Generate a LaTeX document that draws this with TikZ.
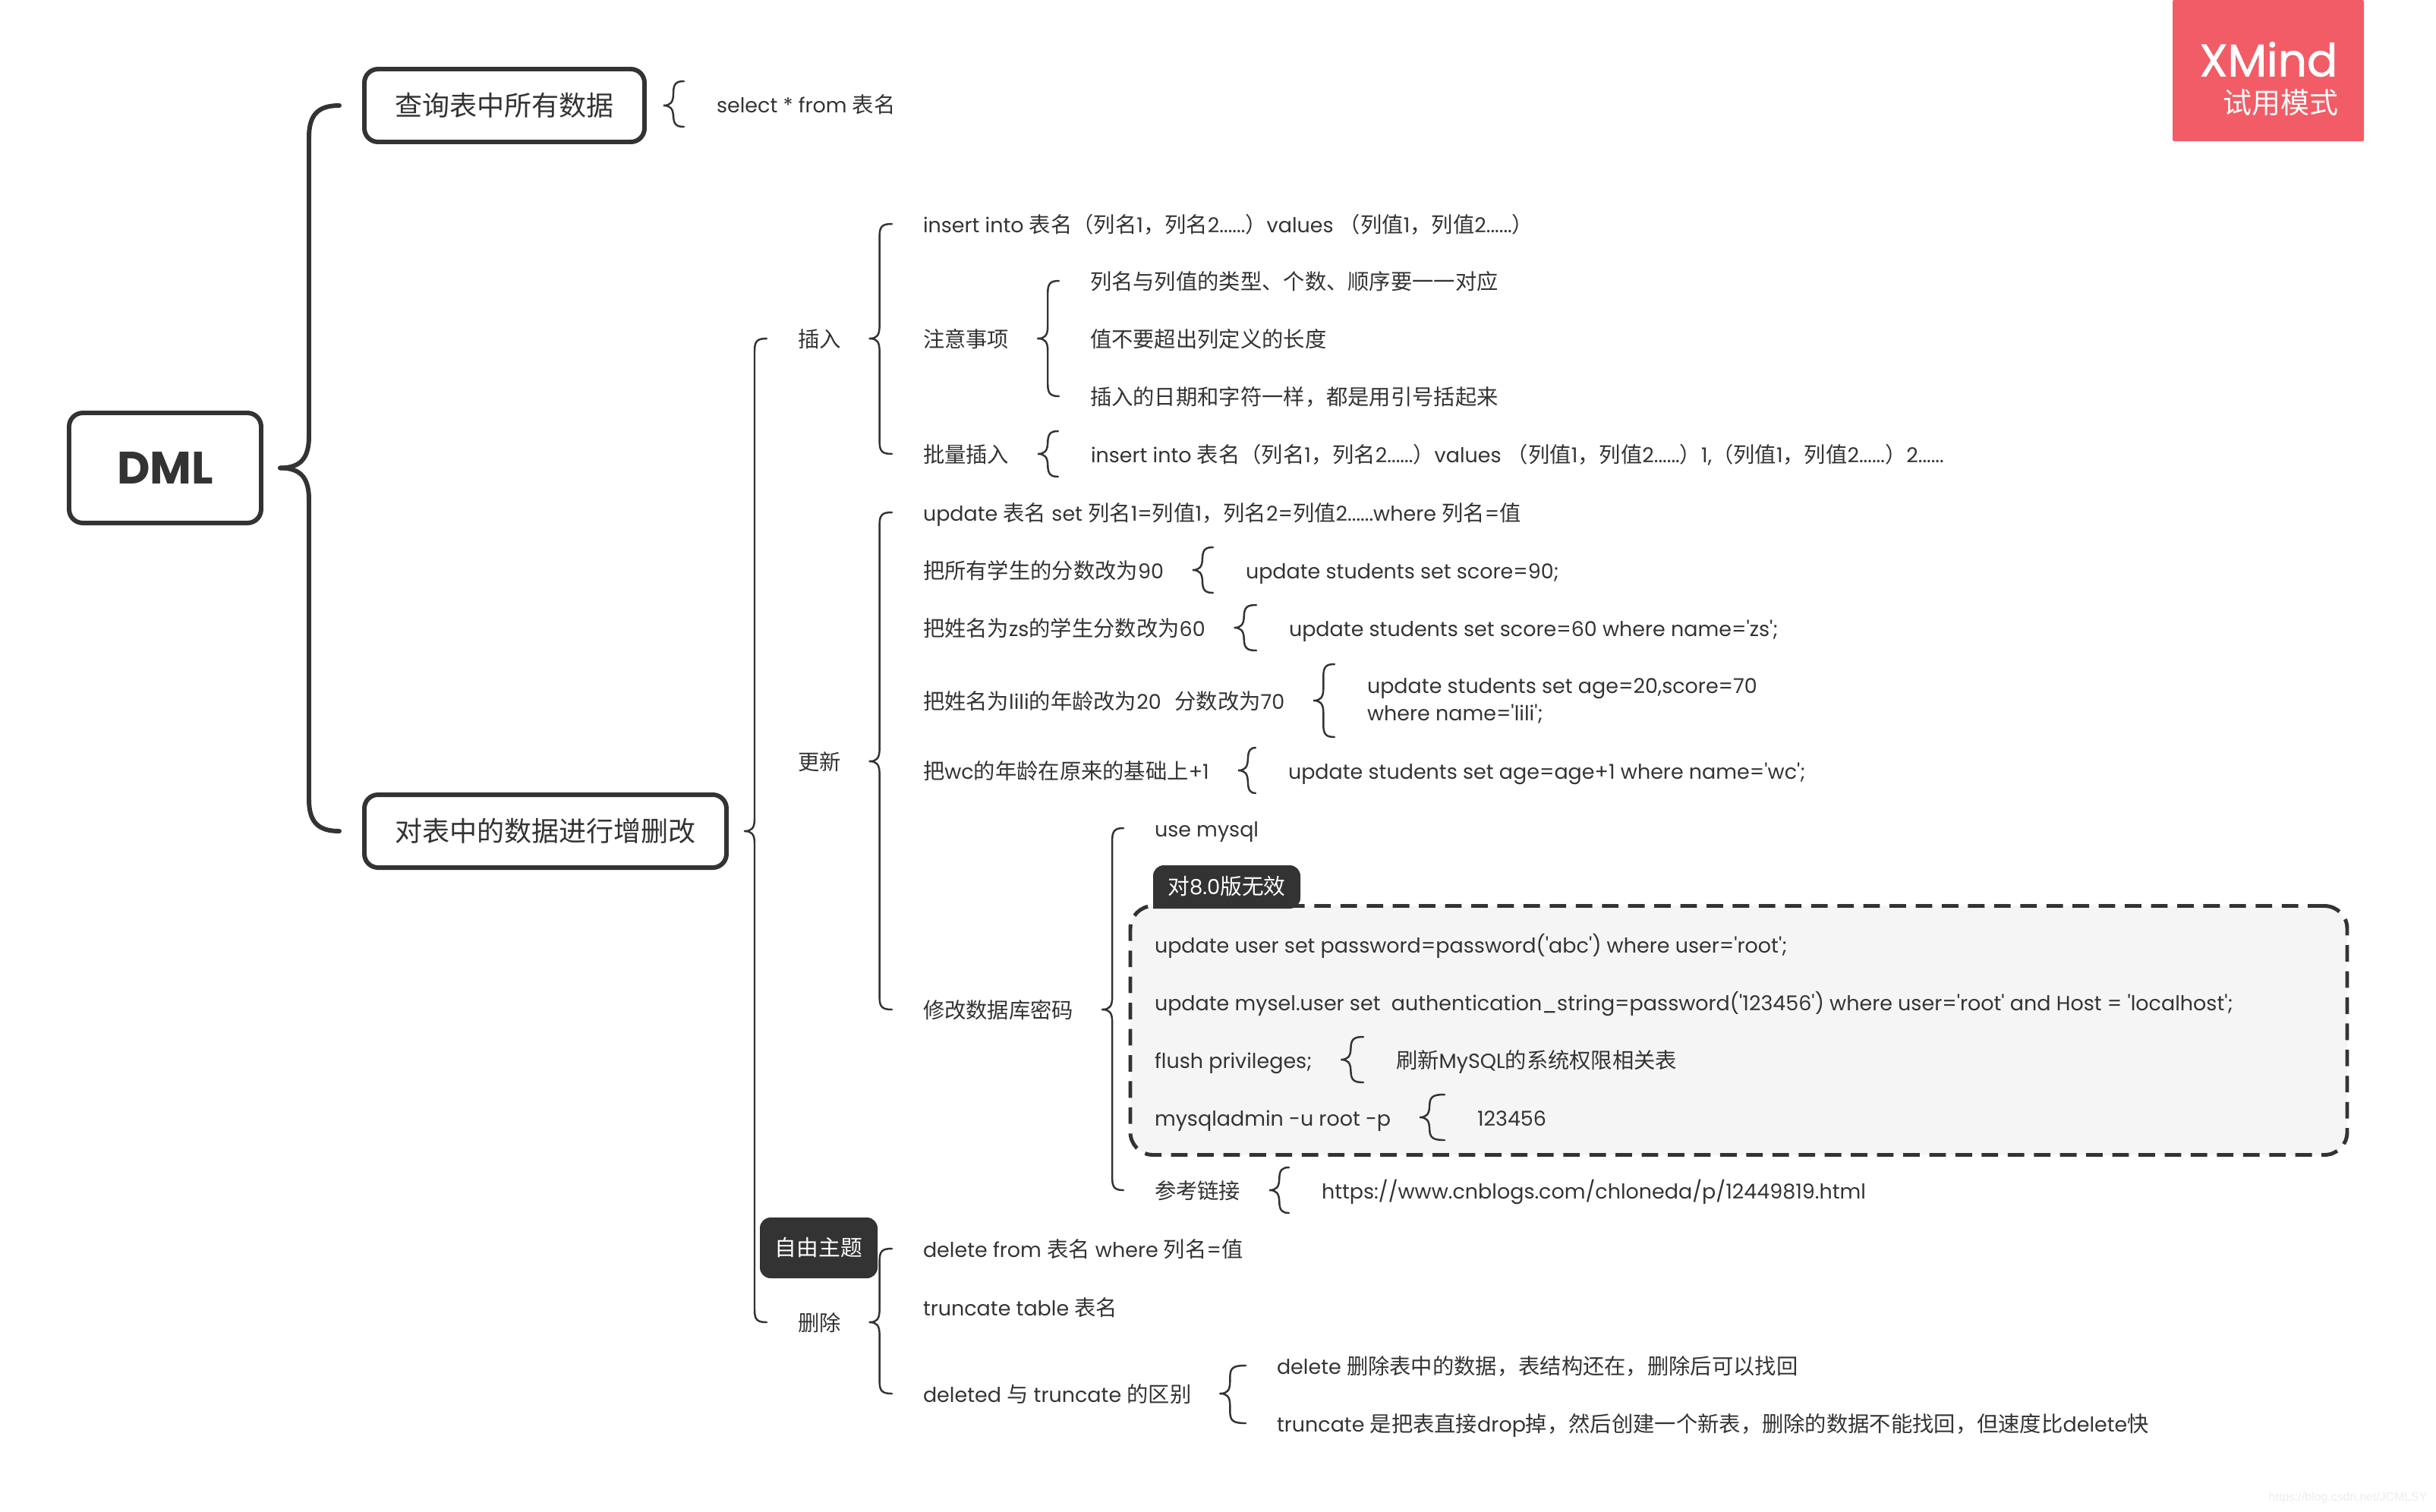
\documentclass[tikz,border=0pt]{standalone}
\usepackage{fontspec}
\usepackage{tikz}
\usetikzlibrary{calc}
\setmainfont{Poppins}[Ligatures=TeXOff]
\newfontfamily\cjk{Noto Sans CJK SC}[Scale=1.05]
\newfontfamily\washfont{Liberation Sans}
\newfontfamily\badgefont{Poppins}[FakeBold=1.3]
\newcommand{\zh}[1]{{\cjk #1}}
\definecolor{XmindDark}{HTML}{333333}
\definecolor{XmindRed}{HTML}{F25C66}
\definecolor{PanelGray}{HTML}{F5F5F5}

\tikzset{
    txt/.style={anchor=west, inner sep=0pt, outer sep=0pt, minimum height=.6cm, text height=7.4pt, text depth=1pt,
        text=XmindDark, font=\fontsize{7.67}{10.24}\selectfont},
    topicbox/.style={draw=XmindDark, line width=1.7pt, rounded corners=.18cm, inner sep=0pt, outer sep=0pt, fill=white,
        text=XmindDark, font=\fontsize{9.77}{12}\selectfont},
    chip/.style={fill=XmindDark, rounded corners=.14cm, inner sep=0pt, outer sep=0pt, text=white,
        font=\fontsize{7.8}{10}\selectfont},
    kid/.style={draw=XmindDark, line width=.7pt, line cap=round, to path={
        let \p1=($(\tikztostart.east)+(#1,0)$), \p2=($(\tikztotarget.west)+(-.41cm,0)$), \n1={sign(\y2-\y1)} in
        (\x1,\y1) .. controls (\x1+.09cm,\y1) and (\x1+.13cm,\y1+\n1*.04cm) .. (\x1+.13cm,\y1+\n1*.16cm)
        -- (\x1+.13cm,\y2-\n1*.16cm) .. controls (\x1+.13cm,\y2-\n1*.03cm) and (\x1+.17cm,\y2) .. (\x2,\y2)}},
    kid/.default=.38cm,
    onebrace/.style={draw=XmindDark, line width=.7pt, line cap=round, to path={
        let \p1=($(\tikztostart.east)+(#1,0)$), \p2=($(\tikztotarget.west)+(-.43cm,0)$),
            \p3=(\tikztotarget.north), \p4=(\tikztotarget.south) in
        (\x2,\y3) .. controls (\x1+.17cm,\y3) and (\x1+.13cm,\y3-.03cm) .. (\x1+.13cm,\y3-.16cm)
        -- (\x1+.13cm,\y1+.16cm) .. controls (\x1+.13cm,\y1+.04cm) and (\x1+.09cm,\y1) .. (\x1,\y1)
        .. controls (\x1+.09cm,\y1) and (\x1+.13cm,\y1-.04cm) .. (\x1+.13cm,\y1-.16cm)
        -- (\x1+.13cm,\y4+.16cm) .. controls (\x1+.13cm,\y4+.03cm) and (\x1+.17cm,\y4) .. (\x2,\y4)}},
    onebrace/.default=.38cm,
    bigbrace/.style={draw=XmindDark, line width=1.7pt, line cap=round, to path={
        let \p1=($(\tikztostart.east)+(.25cm,0)$), \p2=($(\tikztotarget.west)+(-.33cm,0)$), \n1={sign(\y2-\y1)} in
        (\x1,\y1) .. controls (\x1+.28cm,\y1) and (\x1+.38cm,\y1+\n1*.14cm) .. (\x1+.38cm,\y1+\n1*.42cm)
        -- (\x1+.38cm,\y2-\n1*.42cm) .. controls (\x1+.38cm,\y2-\n1*.12cm) and (\x1+.5cm,\y2) .. (\x2,\y2)}}
}

\begin{document}
\begin{tikzpicture}[x=1cm, y=-1cm]
    \useasboundingbox (0,0) rectangle (32.09,19.91);
    % Trial badge
    \node (badge) [fill=XmindRed, rounded corners=.02cm, inner sep=0pt, outer sep=0pt, minimum width=2.52cm, minimum height=1.86cm] at (29.88,.93) {};
    \node (badgename) [anchor=east, inner sep=0pt, text=white, font=\fontsize{17}{18}\badgefont] at (30.80,.78) {XMind};
    \node (badgemode) [anchor=east, inner sep=0pt, text=white, font=\fontsize{10.3}{12}\cjk] at (30.81,1.35) {试用模式};
    % Root and the two main topics
    \node (dml) [topicbox, minimum width=2.53cm, minimum height=1.45cm, font=\fontsize{17}{18}\bfseries] at (2.175,6.165) {DML};
    \node (selall) [topicbox, minimum width=3.69cm, minimum height=.96cm] at (6.645,1.39) {\zh{查询表中所有数据}};
    \node (change) [topicbox, minimum width=4.77cm, minimum height=.96cm] at (7.185,10.95) {\zh{对表中的数据进行增删改}};
    \node (selsql) [txt] at (9.44,1.37) {select * from \zh{表名}};
    % Insert
    \node (ins) [txt] at (10.51,4.46) {\zh{插入}};
    \node (ins1) [txt] at (12.16,2.95) {insert into \zh{表名（列名}1\zh{，列名}2......\zh{）}values \zh{（列值}1\zh{，列值}2......\zh{）}};
    \node (ins2) [txt] at (12.16,4.46) {\zh{注意事项}};
    \node (ins3) [txt] at (12.16,5.98) {\zh{批量插入}};
    \node (note1) [txt] at (14.36,3.70) {\zh{列名与列值的类型、个数、顺序要一一对应}};
    \node (note2) [txt] at (14.36,4.46) {\zh{值不要超出列定义的长度}};
    \node (note3) [txt] at (14.36,5.22) {\zh{插入的日期和字符一样，都是用引号括起来}};
    \node (batch) [txt] at (14.37,5.98) {insert into \zh{表名（列名}1\zh{，列名}2......\zh{）}values \zh{（列值}1\zh{，列值}2......\zh{）}1,\zh{（列值}1\zh{，列值}2......\zh{）}2......};
    % Update
    \node (upd) [txt] at (10.51,10.03) {\zh{更新}};
    \node (upd1) [txt] at (12.16,6.75) {update \zh{表名} set \zh{列名}1=\zh{列值}1\zh{，列名}2=\zh{列值}2......where \zh{列名}=\zh{值}};
    \node (upd2) [txt] at (12.16,7.51) {\zh{把所有学生的分数改为}90};
    \node (upd3) [txt] at (12.16,8.27) {\zh{把姓名为}zs\zh{的学生分数改为}60};
    \node (upd4) [txt] at (12.16,9.23) {\zh{把姓名为}lili\zh{的年龄改为}20\hspace{3pt} \zh{分数改为}70};
    \node (upd5) [txt] at (12.16,10.15) {\zh{把}wc\zh{的年龄在原来的基础上}+1};
    \node (upd6) [txt] at (12.16,13.30) {\zh{修改数据库密码}};
    \node (sql2) [txt] at (16.41,7.51) {update students set score=90;};
    \node (sql3) [txt] at (16.98,8.27) {update students set score=60 where name='zs';};
    \node (sql4) [txt, align=left, text height={}, text depth={}, minimum height=.96cm] at (18.01,9.23) {update students set age=20,score=70\\where name='lili';};
    \node (sql5) [txt] at (16.97,10.15) {update students set age=age+1 where name='wc';};
    % Password panel
    \node (panel) [draw=XmindDark, fill=PanelGray, line width=1.4pt, dash pattern=on 6.2pt off 3.6pt, rounded corners=.3cm, inner sep=0pt, outer sep=0pt, minimum width=16.03cm, minimum height=3.28cm] at (22.905,13.575) {};
    \fill [XmindDark, rounded corners=.14cm] (15.19,11.97) -- (15.19,11.40) -- (17.13,11.40) -- (17.13,11.97) [sharp corners] -- cycle;
    \node (tag) [inner sep=0pt, text=white, font=\fontsize{7.8}{10}\selectfont] at (16.16,11.68) {\zh{对}8.0\zh{版无效}};
    \node (pw1) [txt] at (15.21,10.91) {use mysql};
    \node (pw2) [txt] at (15.21,12.44) {update user set password=password('abc') where user='root';};
    \node (pw3) [txt] at (15.21,13.20) {update mysel.user set\ \ authentication\_string=password('123456') where user='root' and Host = 'localhost';};
    \node (pw4) [txt] at (15.21,13.96) {flush privileges;};
    \node (pw5) [txt] at (15.21,14.72) {mysqladmin -u root -p};
    \node (pw6) [txt] at (15.21,15.68) {\zh{参考链接}};
    \node (flushnote) [txt] at (18.39,13.96) {\zh{刷新}MySQL\zh{的系统权限相关表}};
    \node (pwvalue) [txt] at (19.46,14.72) {123456};
    \node (pwlink) [txt] at (17.41,15.68) {https://www.cnblogs.com/chloneda/p/12449819.html};
    % Delete
    \node (del) [txt] at (10.51,17.42) {\zh{删除}};
    \node (del1) [txt] at (12.16,16.45) {delete from \zh{表名} where \zh{列名}=\zh{值}};
    \node (del2) [txt] at (12.16,17.22) {truncate table \zh{表名}};
    \node (del3) [txt] at (12.16,18.36) {deleted \zh{与} truncate \zh{的区别}};
    \node (diff1) [txt] at (16.82,17.99) {delete \zh{删除表中的数据，表结构还在，删除后可以找回}};
    \node (diff2) [txt] at (16.82,18.75) {truncate \zh{是把表直接}drop\zh{掉，然后创建一个新表，删除的数据不能找回，但速度比}delete\zh{快}};
    % Connectors
    \draw [bigbrace] (dml) to (selall);
    \draw [bigbrace] (dml) to (change);
    \draw [onebrace=.25cm] (selall) to (selsql);
    \draw [kid=.24cm] (change) to (ins);
    \draw [kid=.24cm] (change) to (del);
    \draw [kid] (ins) to (ins1);
    \draw [kid] (ins) to (ins3);
    \draw [kid] (ins2) to (note1);
    \draw [kid] (ins2) to (note3);
    \draw [onebrace] (ins3) to (batch);
    \draw [kid] (upd) to (upd1);
    \draw [kid] (upd) to (upd6);
    \draw [onebrace] (upd2) to (sql2);
    \draw [onebrace] (upd3) to (sql3);
    \draw [onebrace] (upd4) to (sql4);
    \draw [onebrace] (upd5) to (sql5);
    \draw [kid] (upd6) to (pw1);
    \draw [kid] (upd6) to (pw6);
    \draw [onebrace] (pw4) to (flushnote);
    \draw [onebrace] (pw5) to (pwvalue);
    \draw [onebrace] (pw6) to (pwlink);
    \draw [kid] (del) to (del1);
    \draw [kid] (del) to (del3);
    \draw [kid] (del3) to (diff1);
    \draw [kid] (del3) to (diff2);
    % Free topic label sits over the line
    \node (freetag) [chip, minimum width=1.55cm, minimum height=.80cm] at (10.785,16.44) {\zh{自由主题}};
    % Blog watermark
    \node (wash) [anchor=east, inner sep=0pt, text=black!7, font=\fontsize{4.5}{5}\washfont] at (31.98,19.73) {https://blog.csdn.net/JCMLSY};
\end{tikzpicture}
\end{document}
